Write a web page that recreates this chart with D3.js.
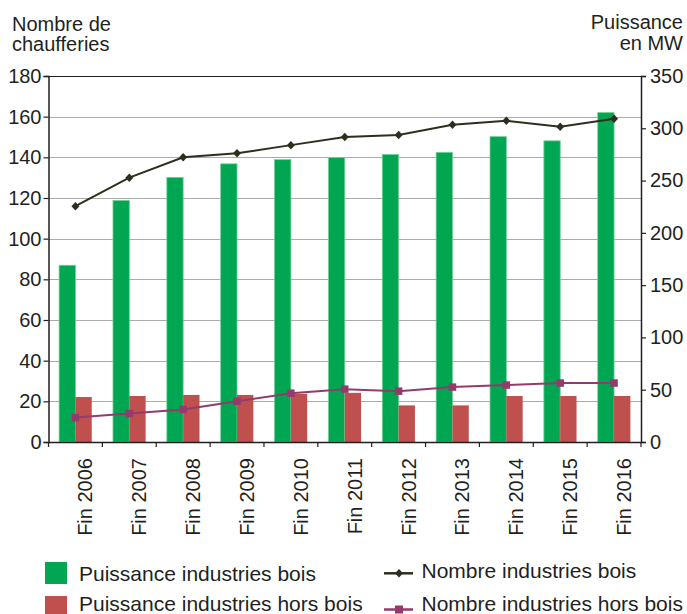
<!DOCTYPE html>
<html>
<head>
<meta charset="utf-8">
<script src="https://cdn.jsdelivr.net/npm/d3@7"></script>
<style>
  html, body { margin: 0; padding: 0; background: #fff; }
  svg { display: block; }
  text { font-family: "Liberation Sans", Arial, Helvetica, sans-serif; fill: #231f20; }
</style>
</head>
<body>
<svg id="chart" width="687" height="614"></svg>
<script>
// ---- Data ----
const categories = ["Fin 2006","Fin 2007","Fin 2008","Fin 2009","Fin 2010","Fin 2011","Fin 2012","Fin 2013","Fin 2014","Fin 2015","Fin 2016"];
// Puissance (MW) - right axis
const puissanceBois     = [169, 231, 253, 266, 270, 272, 275, 277, 292, 288, 315];
const puissanceHorsBois = [43, 44, 45, 45, 46, 47, 35, 35, 44, 44, 44];
// Nombre de chaufferies - left axis
const nombreBois        = [116, 130, 140, 142, 146, 150, 151, 156, 158, 155, 159];
const nombreHorsBois    = [12, 14, 16, 20, 24, 26, 25, 27, 28, 29, 29];
const leftTicks  = [0, 20, 40, 60, 80, 100, 120, 140, 160, 180];
const rightTicks = [0, 50, 100, 150, 200, 250, 300, 350];

const colors = {
  green: "#00a651", greenEdge: "#6fcf97",
  red: "#c0504d",
  black: "#2e2e1f",
  purple: "#943b6c",
  grid: "#ababab",
  axis: "#231f20"
};

// ---- Layout ----
const svg = d3.select("#chart");
const x0 = 48.5, x1 = 641, yTop = 76, yBot = 442;

const x = d3.scaleBand().domain(categories).range([x0, x1]).paddingInner(0).paddingOuter(0);
const sub = d3.scaleBand().domain(["bois", "hors"]).range([0, x.bandwidth()]).paddingInner(0).paddingOuter(0.65);
const yL = d3.scaleLinear().domain([0, 180]).range([yBot, yTop]);
const yR = d3.scaleLinear().domain([0, 350]).range([yBot, yTop]);

// Gridlines
svg.append("g").selectAll("line").data(leftTicks.filter(d => d > 0 && d < 180)).join("line")
  .attr("x1", x0).attr("x2", x1)
  .attr("y1", d => Math.round(yL(d)) + 0.5).attr("y2", d => Math.round(yL(d)) + 0.5)
  .attr("stroke", colors.grid).attr("stroke-width", 1.2);

// Top border
svg.append("line").attr("x1", x0).attr("x2", x1).attr("y1", yTop + 0.5).attr("y2", yTop + 0.5)
  .attr("stroke", colors.axis).attr("stroke-width", 1.2);

// Bars
const groups = svg.append("g").selectAll("g").data(categories).join("g")
  .attr("transform", d => `translate(${x(d)},0)`);

groups.append("rect")
  .attr("x", sub("bois")).attr("width", sub.bandwidth())
  .attr("y", (d, i) => yR(puissanceBois[i]))
  .attr("height", (d, i) => yBot - yR(puissanceBois[i]))
  .attr("fill", colors.green).attr("stroke", colors.greenEdge).attr("stroke-width", 0.8);

groups.append("rect")
  .attr("x", sub("hors")).attr("width", sub.bandwidth())
  .attr("y", (d, i) => yR(puissanceHorsBois[i]))
  .attr("height", (d, i) => yBot - yR(puissanceHorsBois[i]))
  .attr("fill", colors.red);

// Lines
const cx = d => x(d) + x.bandwidth() / 2;
const lineL = d3.line().x(d => cx(d.c)).y(d => yL(d.v));
const ptsBois = categories.map((c, i) => ({ c, v: nombreBois[i] }));
const ptsHors = categories.map((c, i) => ({ c, v: nombreHorsBois[i] }));

function diamondPath(w, h) {
  return `M0,${-h/2}L${w/2},0L0,${h/2}L${-w/2},0Z`;
}

svg.append("path").datum(ptsHors).attr("d", lineL)
  .attr("fill", "none").attr("stroke", colors.purple).attr("stroke-width", 2);
svg.append("g").selectAll("rect").data(ptsHors).join("rect")
  .attr("x", d => cx(d.c) - 3.75).attr("y", d => yL(d.v) - 3.75)
  .attr("width", 7.5).attr("height", 7.5).attr("fill", colors.purple);

svg.append("path").datum(ptsBois).attr("d", lineL)
  .attr("fill", "none").attr("stroke", colors.black).attr("stroke-width", 2);
svg.append("g").selectAll("path").data(ptsBois).join("path")
  .attr("transform", d => `translate(${cx(d.c)},${yL(d.v)})`)
  .attr("d", diamondPath(8, 8.5)).attr("fill", colors.black);

// Left axis
const axL = svg.append("g").attr("transform", `translate(${x0},0)`)
  .call(d3.axisLeft(yL).tickValues(leftTicks).tickSize(5).tickPadding(2));
// Right axis
const axR = svg.append("g").attr("transform", `translate(${x1},0)`)
  .call(d3.axisRight(yR).tickValues(rightTicks).tickSize(5).tickPadding(4));
// Bottom axis
const axB = svg.append("g").attr("transform", `translate(0,${yBot})`)
  .call(d3.axisBottom(x).tickValues([]).tickSize(0));
axB.append("g").selectAll("line").data(categories.concat(["__end"])).join("line")
  .attr("x1", (d, i) => i < categories.length ? x(d) : x1)
  .attr("x2", (d, i) => i < categories.length ? x(d) : x1)
  .attr("y1", 0).attr("y2", 5).attr("stroke", colors.axis).attr("stroke-width", 1.2);

[axL, axR, axB].forEach(a => {
  a.select(".domain").attr("stroke", colors.axis).attr("stroke-width", 1.5);
  a.selectAll(".tick line").attr("stroke", colors.axis).attr("stroke-width", 1.2);
  a.selectAll(".tick text").attr("font-size", 20).attr("fill", "#231f20")
    .attr("font-family", "'Liberation Sans', Arial, sans-serif");
});

// X labels (rotated)
svg.append("g").selectAll("text").data(categories).join("text")
  .attr("transform", d => `translate(${cx(d) + 17},458) rotate(-90)`)
  .attr("text-anchor", "end").attr("font-size", 20).text(d => d);

// Axis titles
svg.append("text").attr("x", 12).attr("y", 30.5).attr("font-size", 20).text("Nombre de");
svg.append("text").attr("x", 12).attr("y", 51).attr("font-size", 20).text("chaufferies");
svg.append("text").attr("x", 683).attr("y", 29).attr("text-anchor", "end").attr("font-size", 20).text("Puissance");
svg.append("text").attr("x", 683).attr("y", 49.5).attr("text-anchor", "end").attr("font-size", 20).text("en MW");

// Legend
const legBars = [
  { label: "Puissance industries bois", color: colors.green, y: 562, ty: 580.5 },
  { label: "Puissance industries hors bois", color: colors.red, y: 596, ty: 610.5 }
];
legBars.forEach(l => {
  svg.append("rect").attr("x", 45).attr("y", l.y).attr("width", 22).attr("height", 22).attr("fill", l.color);
  svg.append("text").attr("x", 79).attr("y", l.ty).attr("font-size", 21).text(l.label);
});
const legLines = [
  { label: "Nombre industries bois", color: colors.black, y: 573.3, ty: 578, marker: "diamond" },
  { label: "Nombre industries hors bois", color: colors.purple, y: 609.5, ty: 610.5, marker: "square" }
];
legLines.forEach(l => {
  svg.append("line").attr("x1", 384).attr("x2", 413).attr("y1", l.y).attr("y2", l.y)
    .attr("stroke", l.color).attr("stroke-width", 2.5);
  if (l.marker === "diamond") {
    svg.append("path").attr("transform", `translate(399,${l.y})`).attr("d", diamondPath(8, 8.5)).attr("fill", l.color);
  } else {
    svg.append("rect").attr("x", 399 - 4).attr("y", l.y - 4).attr("width", 8).attr("height", 8).attr("fill", l.color);
  }
  svg.append("text").attr("x", 421.5).attr("y", l.ty).attr("font-size", 21).text(l.label);
});
</script>
</body>
</html>
